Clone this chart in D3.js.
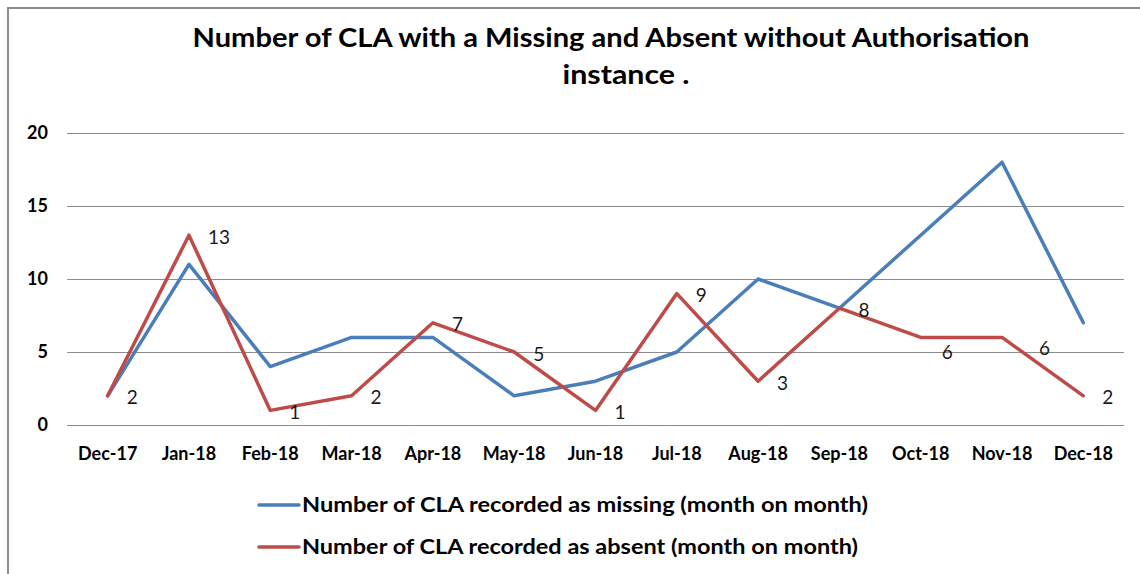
<!DOCTYPE html>
<html><head><meta charset="utf-8">
<script src="https://cdn.jsdelivr.net/npm/d3@7"></script>
<style>
html,body{margin:0;padding:0;background:#fff;}
svg{display:block;font-family:Lato,"Open Sans",sans-serif;}
</style></head>
<body><svg id="c" width="1140" height="574"></svg>
<script>
const months = ["Dec-17","Jan-18","Feb-18","Mar-18","Apr-18","May-18","Jun-18","Jul-18","Aug-18","Sep-18","Oct-18","Nov-18","Dec-18"];
const missing = [2,11,4,6,6,2,3,5,10,8,13,18,7];
const absent = [2,13,1,2,7,5,1,9,3,8,6,6,2];
const yTicks = [0,5,10,15,20];
const seriesNames = ["Number of CLA recorded as missing (month on month)","Number of CLA recorded as absent (month on month)"];
const titleLines = ["Number of CLA with a Missing and Absent without Authorisation","instance ."];

const svg = d3.select("#c");
const blue = "#4A7EBB", red = "#BE4B48";

// frame
svg.append("rect").attr("x",8).attr("y",8).attr("width",1150).attr("height",600)
  .attr("fill","none").attr("stroke","#8c8c8c").attr("stroke-width",2);

const x = d3.scaleBand().domain(months).range([67,1124]);
const y = d3.scaleLinear().domain([0,20]).range([425,133]);

// gridlines
svg.append("g").selectAll("line").data(yTicks).join("line")
  .attr("x1",67).attr("x2",1124).attr("y1",d=>y(d)).attr("y2",d=>y(d))
  .attr("stroke","#8c8c8c").attr("stroke-width",1).attr("shape-rendering","crispEdges");

// y axis
const yAxis = svg.append("g").attr("transform","translate(48,0)")
  .call(d3.axisLeft(y).tickValues(yTicks).tickSize(0).tickPadding(0));
yAxis.select(".domain").remove();
yAxis.selectAll("text").attr("font-family","Lato,sans-serif").attr("font-size",18).attr("font-weight","bold").attr("fill","#000");

// x axis
const xAxis = svg.append("g").attr("transform","translate(0,447)")
  .call(d3.axisBottom(x).tickSize(0).tickPadding(0));
xAxis.select(".domain").remove();
xAxis.selectAll("text").attr("font-family","Lato,sans-serif").attr("font-size",18).attr("font-weight","bold").attr("fill","#000");

const cx = (d,i)=> x(months[i]) + x.bandwidth()/2;
const line = d3.line().x(cx).y(d=>y(d));

svg.append("path").datum(missing).attr("d",line).attr("fill","none")
  .attr("stroke",blue).attr("stroke-width",3.5).attr("stroke-linejoin","round").attr("stroke-linecap","round");
svg.append("path").datum(absent).attr("d",line).attr("fill","none")
  .attr("stroke",red).attr("stroke-width",3.5).attr("stroke-linejoin","round").attr("stroke-linecap","round");

// data labels for absent series
const labelShift = {10:[2,13], 11:[18,9]};
svg.append("g").selectAll("text").data(absent).join("text")
  .attr("x",(d,i)=>cx(d,i)+19+(labelShift[i]?labelShift[i][0]:0))
  .attr("y",(d,i)=>y(d)+2+(labelShift[i]?labelShift[i][1]:0))
  .attr("dy","0.35em")
  .attr("font-size",19).attr("fill","#1a1a1a")
  .text(d=>d);

// title
const titleX = [611,626], titleW = [837,127];
svg.append("g").selectAll("text").data(titleLines).join("text")
  .attr("x",(d,i)=>titleX[i]).attr("y",(d,i)=>47+i*37)
  .attr("text-anchor","middle").attr("font-size",27).attr("font-weight","bold").attr("fill","#000")
  .attr("textLength",(d,i)=>titleW[i]).attr("lengthAdjust","spacingAndGlyphs")
  .text(d=>d);

// legend
const legW = [566,556];
const lg = svg.append("g").selectAll("g").data(seriesNames).join("g")
  .attr("transform",(d,i)=>`translate(259,${505+i*42})`);
lg.append("line").attr("x1",0).attr("x2",40).attr("y1",0).attr("y2",0)
  .attr("stroke",(d,i)=>i===0?blue:red).attr("stroke-width",3.5).attr("stroke-linecap","round");
lg.append("text").attr("x",43).attr("y",0).attr("dy","0.35em")
  .attr("font-size",20).attr("font-weight","bold").attr("fill","#000")
  .attr("textLength",(d,i)=>legW[i]).attr("lengthAdjust","spacingAndGlyphs")
  .text(d=>d);
</script></body></html>
